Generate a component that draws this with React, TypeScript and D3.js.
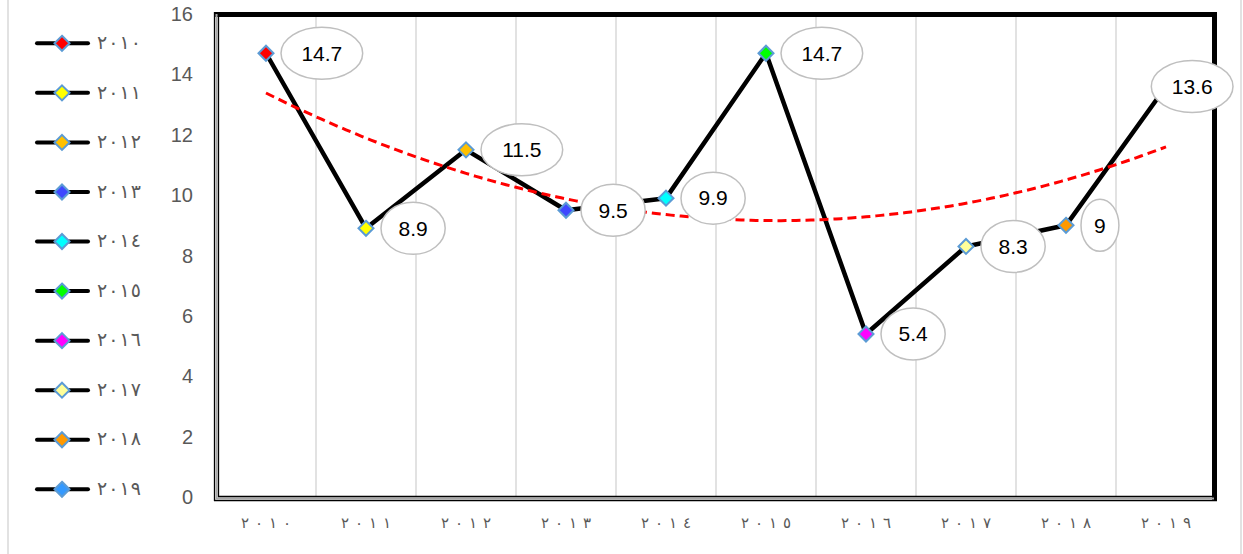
import React from "react";
import * as d3 from "d3";

const years = ["٢٠١٠", "٢٠١١", "٢٠١٢", "٢٠١٣", "٢٠١٤", "٢٠١٥", "٢٠١٦", "٢٠١٧", "٢٠١٨", "٢٠١٩"];
const values = [14.7, 8.9, 11.5, 9.5, 9.9, 14.7, 5.4, 8.3, 9, 13.6];
const labels = ["14.7", "8.9", "11.5", "9.5", "9.9", "14.7", "5.4", "8.3", "9", "13.6"];
const markerColors = ["#ff0000", "#ffff00", "#ffc000", "#3f48ff", "#00ffff", "#00ff00", "#ff00ff", "#ffff99", "#ff9900", "#3399ff"];
const yTicks = [0, 2, 4, 6, 8, 10, 12, 14, 16];

const W = 1243;
const H = 554;

function quadFit(ys: number[]) {
  const n = ys.length;
  const xs = ys.map((_, i) => i + 1);
  const mx = d3.mean(xs)!;
  const us = xs.map((x) => x - mx);
  const su2 = d3.sum(us, (u) => u * u);
  const su4 = d3.sum(us, (u) => u ** 4);
  const sy = d3.sum(ys);
  const suy = d3.sum(us, (u, i) => u * ys[i]);
  const su2y = d3.sum(us, (u, i) => u * u * ys[i]);
  const b = suy / su2;
  const c = (su2y - (su2 / n) * sy) / (su4 - (su2 * su2) / n);
  const a = (sy - c * su2) / n;
  return (x: number) => {
    const u = x - mx;
    return a + b * u + c * u * u;
  };
}

function textW(s: string, fs: number) {
  let w = 0;
  for (const ch of s) w += ch === "." ? 0.278 * fs : 0.556 * fs;
  return w;
}

function Diamond({ cx, cy, fill, size = 7.5 }: { cx: number; cy: number; fill: string; size?: number }) {
  const pts = [
    [cx, cy - size],
    [cx + size, cy],
    [cx, cy + size],
    [cx - size, cy],
  ]
    .map((p) => p.join(","))
    .join(" ");
  return <polygon points={pts} fill={fill} stroke="#5b9bd5" strokeWidth={2} />;
}

export default function App() {
  const x = d3.scalePoint<string>().domain(years).range([266, 1166]);
  const y = d3.scaleLinear().domain([0, 16]).range([497, 14]);
  const step = x.step();

  const line = d3
    .line<number>()
    .x((_, i) => x(years[i])!)
    .y((d) => y(d));

  const f = quadFit(values);
  const trendPts = d3.range(1, 10.001, 0.05).map((t) => [266 + (t - 1) * step, y(f(t))] as [number, number]);
  const trendPath = d3.line()(trendPts);

  const gridXs = years.slice(1).map((yr) => x(yr)! - step / 2);

  const labelFs = 21;
  const legendY = d3.scaleLinear().domain([0, 9]).range([43.3, 489.3]);

  return (
    <svg
      width={W}
      height={H}
      style={{ position: "absolute", left: 0, top: 0, background: "#fff" }}
      fontFamily="'Liberation Sans', Arial, sans-serif"
    >
      <rect x={0} y={0} width={W} height={H} fill="#fff" />
      <line x1={8} x2={8} y1={0} y2={H} stroke="#d9d9d9" strokeWidth={1.5} />
      <line x1={1241} x2={1241} y1={0} y2={H} stroke="#d9d9d9" strokeWidth={1.5} />

      {/* gridlines */}
      {gridXs.map((gx, i) => (
        <line key={i} x1={gx} x2={gx} y1={17} y2={496} stroke="#d9d9d9" strokeWidth={1.5} />
      ))}

      {/* y tick labels */}
      {yTicks.map((t) => (
        <text key={t} x={193} y={y(t)} dy="0.35em" textAnchor="end" fontSize={20} fill="#595959">
          {t}
        </text>
      ))}

      {/* x labels */}
      {years.map((yr) => (
        <text
          key={yr}
          x={x(yr)! - 25}
          y={528}
          fontSize={15}
          fill="#595959"
          fontFamily="'DejaVu Sans', sans-serif"
          textLength={50}
          lengthAdjust="spacing"
          direction="ltr"
        >
          {yr}
        </text>
      ))}

      {/* series line */}
      <path d={line(values) || ""} fill="none" stroke="#000" strokeWidth={4.5} strokeLinejoin="round" />

      {/* trend */}
      <path d={trendPath || ""} fill="none" stroke="#ff0000" strokeWidth={3} strokeDasharray="9,5" />

      {/* markers */}
      {values.map((v, i) => (
        <Diamond key={i} cx={x(years[i])!} cy={y(v)} fill={markerColors[i]} />
      ))}

      {/* frame */}
      <rect x={214} y={12} width={1003} height={5} fill="#000" />
      <rect x={1212} y={12} width={5} height={489} fill="#000" />
      <line x1={214.5} x2={214.5} y1={12} y2={501} stroke="#000" strokeWidth={1.3} />
      <line x1={216.5} x2={216.5} y1={14} y2={499} stroke="#a6a6a6" strokeWidth={2} />
      <line x1={218.5} x2={218.5} y1={16} y2={497} stroke="#000" strokeWidth={1.3} />
      <line x1={214} x2={1217} y1={500.5} y2={500.5} stroke="#000" strokeWidth={1.3} />
      <line x1={216} x2={1214} y1={498.5} y2={498.5} stroke="#a6a6a6" strokeWidth={2} />
      <line x1={218} x2={1212} y1={496.5} y2={496.5} stroke="#000" strokeWidth={1.3} />

      {/* data labels */}
      {values.map((v, i) => {
        const px = x(years[i])!;
        const py = y(v);
        const tw = textW(labels[i], labelFs);
        const rx = 1.5 * (tw / 2 + 6.8);
        let cx = px + 15 + rx;
        if (cx + rx > 1233) cx = 1233 - rx;
        return (
          <g key={i}>
            <ellipse cx={cx} cy={py} rx={rx} ry={26} fill="#fff" stroke="#bfbfbf" strokeWidth={1.5} />
            <text x={cx} y={py} dy="0.35em" textAnchor="middle" fontSize={labelFs} fill="#000">
              {labels[i]}
            </text>
          </g>
        );
      })}

      {/* legend */}
      {years.map((yr, i) => {
        const ly = legendY(i);
        return (
          <g key={yr}>
            <line x1={37} x2={88} y1={ly} y2={ly} stroke="#000" strokeWidth={4} strokeLinecap="round" />
            <Diamond cx={62} cy={ly} fill={markerColors[i]} />
            <text
              x={97}
              y={ly}
              dy="0.3em"
              fontSize={19}
              fill="#595959"
              fontFamily="'DejaVu Sans', sans-serif"
              textLength={44}
              lengthAdjust="spacing"
              direction="ltr"
            >
              {yr}
            </text>
          </g>
        );
      })}
    </svg>
  );
}
